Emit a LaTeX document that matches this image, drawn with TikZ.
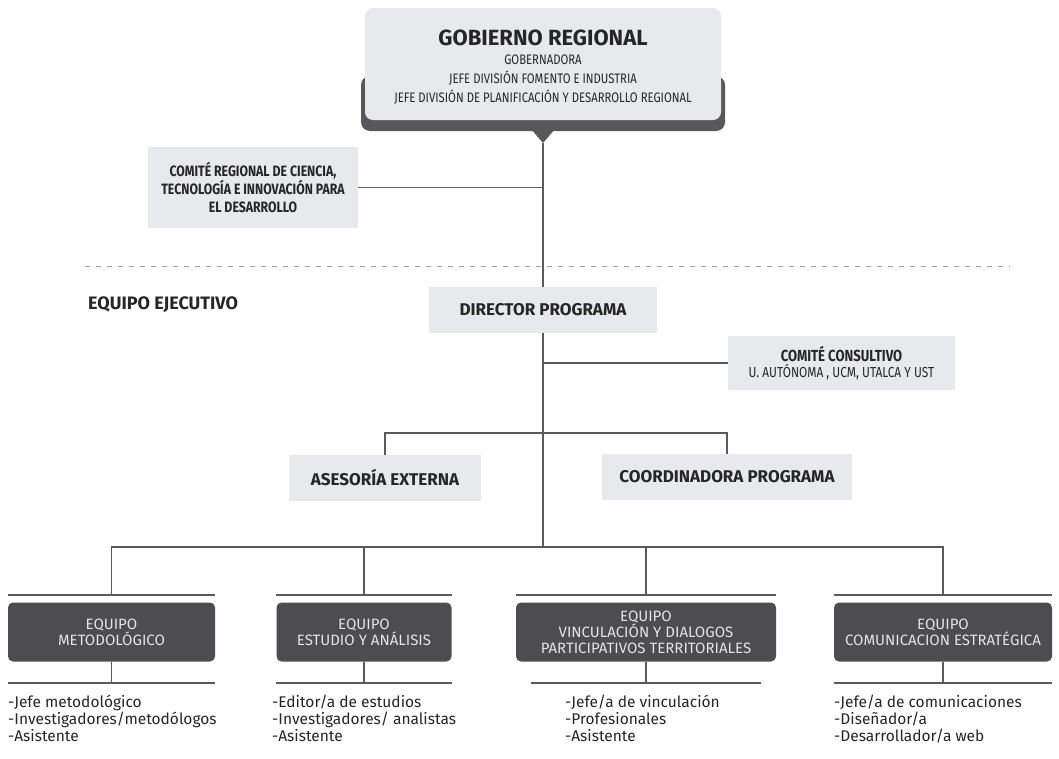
\documentclass[tikz,border=0pt]{standalone}
\usepackage{fontspec}
\setmainfont{Fira Sans}
\newfontfamily\condfont[FakeStretch=0.82]{Fira Sans}
\usetikzlibrary{positioning, calc}

\definecolor{boxgray}{HTML}{E8E9EC}
\definecolor{bandgray}{HTML}{58585A}
\definecolor{teamgray}{HTML}{4D4D4F}
\definecolor{linegray}{HTML}{5A5A5A}
\definecolor{inkgray}{HTML}{262626}
\definecolor{teamtext}{HTML}{E4E4E4}

\newcommand{\titlefont}{\fontsize{22}{26}\selectfont\bfseries}
\newcommand{\subfont}{\condfont\fontsize{13.8}{19}\selectfont}
\newcommand{\headfont}{\fontsize{17}{20}\selectfont\bfseries}
\newcommand{\crfont}{\condfont\fontsize{15}{18}\selectfont\bfseries}
\newcommand{\teamfont}{\fontsize{15}{16}\selectfont}
\newcommand{\listfont}{\fontsize{15.5}{17}\selectfont}

\begin{document}
\begin{tikzpicture}[x=1pt, y=-1pt,
    lightbox/.style={fill=boxgray, text=inkgray, align=center, inner sep=0pt},
    teambox/.style={fill=teamgray, rounded corners=5pt, minimum height=59pt,
        inner sep=0pt, text=teamtext, align=center, font=\teamfont},
    conn/.style={draw=linegray, line width=1.3pt},
    barline/.style={draw=linegray, line width=1.8pt},
    dashline/.style={draw=gray!75, line width=1pt, dash pattern=on 5pt off 6pt},
    stafflist/.style={anchor=north west, align=left, inner sep=0pt,
        text=inkgray, font=\listfont}]
  \useasboundingbox[fill=white] (0,0) rectangle (1059,758);

  % gobierno regional
  \fill[bandgray, rounded corners=9pt] (361,76) rectangle (725,131);
  \node[lightbox, rounded corners=8pt, minimum width=356pt, minimum height=112pt] (gob) at (543,64) {};
  \fill[bandgray] (531,129) -- (555,129) -- (543,143) coordinate (gobtip) -- cycle;
  \node[anchor=base, text=inkgray, font=\titlefont] (gobtitle) at (543,45) {GOBIERNO REGIONAL};
  \node[anchor=base, text=inkgray, font=\subfont] (gobsub1) at (543,64) {GOBERNADORA};
  \node[anchor=base, text=inkgray, font=\subfont] (gobsub2) at (543,83) {JEFE DIVISIÓN FOMENTO E INDUSTRIA};
  \node[anchor=base, text=inkgray, font=\subfont] (gobsub3) at (543,102) {JEFE DIVISIÓN DE PLANIFICACIÓN Y DESARROLLO REGIONAL};

  % comite regional
  \node[lightbox, minimum width=210pt, minimum height=81pt, font=\crfont] (crcti) at (253,187.5)
    {COMITÉ REGIONAL DE CIENCIA,\\TECNOLOGÍA E INNOVACIÓN PARA\\EL DESARROLLO};
  \coordinate (crjoin) at (543,187.5);

  \draw[dashline] (85,266) -- (1010,266);

  % equipo ejecutivo
  \node[anchor=west, inner sep=0pt, text=inkgray, font=\fontsize{18}{20}\selectfont\bfseries] (ejec) at (88,305) {EQUIPO EJECUTIVO};
  \node[lightbox, minimum width=228pt, minimum height=46pt, font=\headfont] (dir) at (543,310) {DIRECTOR PROGRAMA};
  \node[lightbox, minimum width=227pt, minimum height=54pt] (cc) at (841.5,363)
    {{\condfont\fontsize{16}{18}\selectfont\bfseries COMITÉ CONSULTIVO}\\[1pt]
     {\condfont\fontsize{14.5}{16}\selectfont U. AUTÓNOMA , UCM, UTALCA Y UST}};
  \coordinate (ccjoin) at (543,363);

  \node[lightbox, minimum width=192pt, minimum height=46pt, font=\headfont] (ases) at (385,478) {ASESORÍA EXTERNA};
  \node[lightbox, minimum width=250pt, minimum height=46pt, font=\headfont] (coord) at (727,477) {COORDINADORA PROGRAMA};
  \coordinate (bus2) at (543,433);
  \coordinate (bus3) at (543,547);

  % equipos
  \node[teambox, minimum width=207pt] (t1) at (111.5,632) {EQUIPO\\METODOLÓGICO};
  \node[teambox, minimum width=175pt] (t2) at (364,632) {EQUIPO\\ESTUDIO Y ANÁLISIS};
  \node[teambox, minimum width=260pt] (t3) at (646,632) {EQUIPO\\VINCULACIÓN Y DIALOGOS\\PARTICIPATIVOS TERRITORIALES};
  \node[teambox, minimum width=218pt] (t4) at (943,632) {EQUIPO\\COMUNICACION ESTRATÉGICA};

  \coordinate (b1) at ([yshift=7pt]t1.north);
  \coordinate (b2) at ([yshift=7pt]t2.north);
  \coordinate (b3) at ([yshift=7pt]t3.north);
  \coordinate (b4) at ([yshift=7pt]t4.north);

  % connectors
  \draw[conn] (gobtip) -- (dir.north);
  \draw[conn] (crcti.east) -- (crjoin);
  \draw[conn] (dir.south) -- (bus3);
  \draw[conn] (ccjoin) -- (cc.west);
  \draw[conn] (ases.north) |- (bus2) -| (coord.north);
  \draw[conn] (b1) |- (bus3) -| (b4);
  \draw[conn] (b2) -- (b2 |- bus3);
  \draw[conn] (b3) -- (b3 |- bus3);

  \draw[barline] ([yshift=7pt]t1.north west) -- ([yshift=7pt]t1.north east);
  \draw[barline] ([yshift=7pt]t2.north west) -- ([yshift=7pt]t2.north east);
  \draw[barline] ([yshift=7pt]t3.north west) -- ([yshift=7pt]t3.north east);
  \draw[barline] ([yshift=7pt]t4.north west) -- ([yshift=7pt]t4.north east);

  \draw[conn] (t1.south) -- ++(0,21) coordinate (s1);
  \draw[conn] (t2.south) -- ++(0,21) coordinate (s2);
  \draw[conn] (t3.south) -- ++(0,21) coordinate (s3);
  \draw[conn] (t4.south) -- ++(0,21) coordinate (s4);
  \draw[barline] (s1 -| t1.west) -- (s1 -| t1.east);
  \draw[barline] (s2 -| t2.west) -- (s2 -| t2.east);
  \draw[barline] ([xshift=15pt]s3 -| t3.west) -- ([xshift=-15pt]s3 -| t3.east);
  \draw[barline] (s4 -| t4.west) -- (s4 -| t4.east);

  % integrantes
  \node[stafflist] (l1) at (8,695) {-Jefe metodológico\\-Investigadores/metodólogos\\-Asistente};
  \node[stafflist] (l2) at (272,695) {-Editor/a de estudios\\-Investigadores/ analistas\\-Asistente};
  \node[stafflist] (l3) at (565,695) {-Jefe/a de vinculación\\-Profesionales\\-Asistente};
  \node[stafflist] (l4) at (834,695) {-Jefe/a de comunicaciones\\-Diseñador/a\\-Desarrollador/a web};
\end{tikzpicture}
\end{document}
